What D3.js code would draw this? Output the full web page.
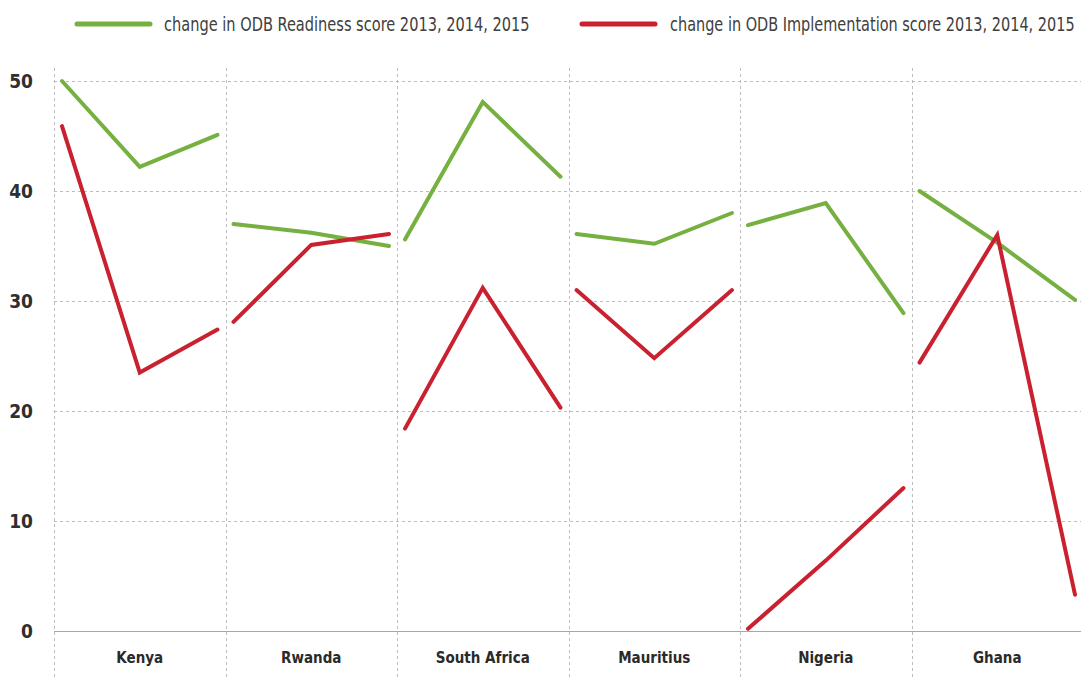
<!DOCTYPE html>
<html>
<head>
<meta charset="utf-8">
<script src="https://cdn.jsdelivr.net/npm/d3@7"></script>
<style>
  html, body { margin: 0; padding: 0; background: #fff; }
  svg { display: block; }
  .lbl { font-family: "DejaVu Sans Condensed", "Liberation Sans Narrow", "Roboto", sans-serif; font-stretch: condensed; }
</style>
</head>
<body>
<svg id="chart" width="1081" height="677"></svg>
<script>
// Countries and years shown
const countries = ["Kenya", "Rwanda", "South Africa", "Mauritius", "Nigeria", "Ghana"];
const years = [2013, 2014, 2015];

// ODB Readiness score per country, per year
const readiness = [
  [50.0, 42.2, 45.1],
  [37.0, 36.2, 35.0],
  [35.6, 48.1, 41.3],
  [36.1, 35.2, 38.0],
  [36.9, 38.9, 28.9],
  [40.0, 35.3, 30.1]
];

// ODB Implementation score per country, per year
const implementation = [
  [45.9, 23.5, 27.4],
  [28.1, 35.1, 36.1],
  [18.4, 31.2, 20.3],
  [31.0, 24.8, 31.0],
  [0.2, 6.4, 13.0],
  [24.4, 36.0, 3.3]
];

const yTicks = [0, 10, 20, 30, 40, 50];

const seriesNames = [
  "change in ODB Readiness score 2013, 2014, 2015",
  "change in ODB Implementation score 2013, 2014, 2015"
];
const seriesColors = ["#76b041", "#c9212f"];

const svg = d3.select("#chart");
const W = 1081, H = 677;
const plotLeft = 54, plotRight = 1083, plotTop = 81, plotBottom = 631;

const x = d3.scaleBand().domain(countries).range([plotLeft, plotRight]).paddingInner(0).paddingOuter(0);
const xi = d3.scalePoint().domain(years).range([8, x.bandwidth() - 8]);
const y = d3.scaleLinear().domain([0, 50]).range([plotBottom, plotTop]);

// horizontal grid
const grid = svg.append("g");
grid.selectAll("line.h")
  .data(yTicks.filter(d => d > 0))
  .join("line")
  .attr("x1", plotLeft).attr("x2", W)
  .attr("y1", d => Math.round(y(d)) + 0.5).attr("y2", d => Math.round(y(d)) + 0.5)
  .attr("stroke", "#bdbdbd").attr("stroke-width", 1).attr("stroke-dasharray", "3,3");

// vertical dividers between countries
grid.selectAll("line.v")
  .data(countries)
  .join("line")
  .attr("x1", d => Math.round(x(d)) + 0.5).attr("x2", d => Math.round(x(d)) + 0.5)
  .attr("y1", 68).attr("y2", H)
  .attr("stroke", "#bdbdbd").attr("stroke-width", 1).attr("stroke-dasharray", "3,3");

// baseline at zero
svg.append("line")
  .attr("x1", plotLeft).attr("x2", W)
  .attr("y1", Math.round(y(0)) + 0.5).attr("y2", Math.round(y(0)) + 0.5)
  .attr("stroke", "#a8a8a8").attr("stroke-width", 1.2);

// y tick labels
const yAxis = d3.axisLeft(y).tickValues(yTicks).tickSize(0).tickPadding(0);
const ya = svg.append("g").attr("transform", "translate(33,0)").call(yAxis);
ya.select(".domain").remove();
ya.attr("font-family", null).attr("font-size", null);
ya.selectAll("text")
  .attr("class", "lbl")
  .attr("font-size", 19).attr("font-weight", "bold").attr("fill", "#2f2f2f");

// country labels
const xAxis = d3.axisBottom(x).tickSize(0).tickPadding(0);
const xa = svg.append("g").attr("transform", "translate(0,652)").call(xAxis);
xa.select(".domain").remove();
xa.attr("font-family", null).attr("font-size", null);
xa.selectAll("text")
  .attr("class", "lbl")
  .attr("font-size", 15).attr("font-weight", "bold").attr("fill", "#2a2a2a");

// per-country lines
const line = d3.line().x(d => d.x).y(d => y(d.v));
[readiness, implementation].forEach((series, si) => {
  const g = svg.append("g");
  countries.forEach((c, ci) => {
    const pts = years.map((yr, k) => ({ x: x(c) + xi(yr), v: series[ci][k] }));
    g.append("path")
      .attr("d", line(pts))
      .attr("fill", "none")
      .attr("stroke", seriesColors[si])
      .attr("stroke-width", 4)
      .attr("stroke-linecap", "round")
      .attr("stroke-linejoin", "miter");
  });
});

// legend: swatch line plus a horizontally condensed label
const legendPos = [
  { lx: 77, tx: 164, tw: 366 },
  { lx: 582, tx: 670, tw: 405 }
];
seriesNames.forEach((name, i) => {
  const lg = svg.append("g");
  lg.append("line")
    .attr("x1", legendPos[i].lx).attr("x2", legendPos[i].lx + 73)
    .attr("y1", 24).attr("y2", 24)
    .attr("stroke", seriesColors[i]).attr("stroke-width", 5).attr("stroke-linecap", "round");
  const tg = lg.append("g");
  const t = tg.append("text")
    .attr("class", "lbl")
    .attr("x", 0).attr("y", 0)
    .attr("font-size", 20).attr("fill", "#404040")
    .text(name);
  const natural = t.node().getComputedTextLength();
  const sx = legendPos[i].tw / natural;
  tg.attr("transform", `translate(${legendPos[i].tx},31) scale(${sx},1)`);
});
</script>
</body>
</html>
